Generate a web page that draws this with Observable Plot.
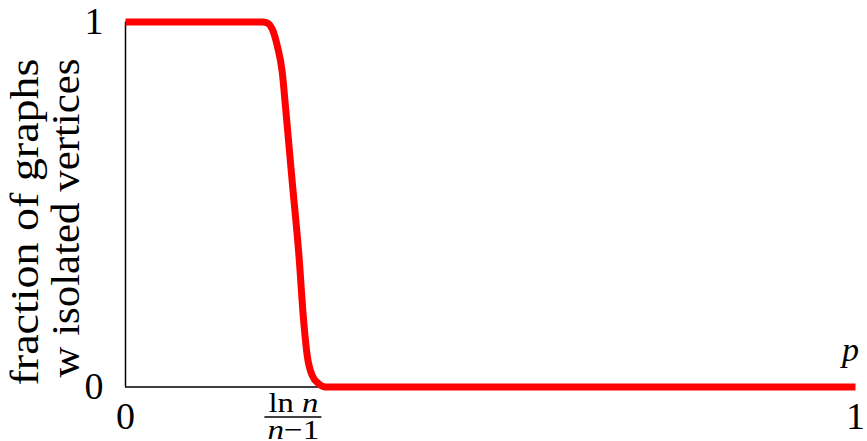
<!DOCTYPE html>
<html><head><meta charset="utf-8">
<script src="https://cdn.jsdelivr.net/npm/d3@7"></script>
<script src="https://cdn.jsdelivr.net/npm/@observablehq/plot@0.6"></script>
<style>body{margin:0;background:#fff} #chart{width:867px;height:441px} svg text{font-family:"Liberation Serif",serif}</style>
</head><body><div id="chart"></div>
<script>
// Data
const pValues = [0, 0.1877, 0.193, 0.201, 0.2078, 0.2147, 0.2192, 0.2223, 0.2288, 0.2374, 0.2442, 0.2489, 0.2558, 0.2648, 0.274, 1];
const fractionIsolated = [1, 1, 0.9986, 0.981, 0.9356, 0.8625, 0.7671, 0.698, 0.553, 0.365, 0.1775, 0.0863, 0.0315, 0.0088, 0, 0];
const lnTick = 0.230;
const xTicks = [0, lnTick, 1];
const xTickLabels = ["0", "", "1"];
const yTicks = [0, 1];
const yTickLabels = ["0", "1"];
const yLabelLines = ["fraction of graphs", "w isolated vertices"];
const fracNum = ["ln ", "n"];
const fracDen = ["n", "−1"];
const xLabel = "p";

const curve = pValues.map((p, i) => ({p, f: fractionIsolated[i]}));
const serif = "Liberation Serif";

const chart = Plot.plot({
  width: 867, height: 441,
  marginLeft: 125, marginRight: 12, marginTop: 21.5, marginBottom: 54.5,
  x: {domain: [0, 1]},
  y: {domain: [0, 1]},
  style: {fontFamily: serif, background: "white", color: "black"},
  marks: [
    Plot.axisX({ticks: xTicks, tickFormat: d => xTickLabels[xTicks.indexOf(d)], tickSize: 0, tickPadding: 15, fontSize: 38, fontFamily: serif, label: null}),
    Plot.axisY({ticks: yTicks, tickFormat: d => yTickLabels[yTicks.indexOf(d)], tickSize: 0, tickPadding: 22, fontSize: 38, fontFamily: serif, label: null}),
    Plot.ruleX([0], {stroke: "black", strokeWidth: 1.5}),
    Plot.ruleY([0], {stroke: "black", strokeWidth: 1.5}),
    Plot.line(curve, {x: "p", y: "f", stroke: "#ff0000", strokeWidth: 7, curve: "monotone-x", strokeLinecap: "butt", strokeLinejoin: "round"}),
    Plot.text([fracNum.join("")], {x: lnTick, y: 0, text: d => d, dy: 25, lineAnchor: "bottom", fontSize: 28, fontFamily: serif}),
    Plot.text([fracDen.join("")], {x: lnTick, y: 0, text: d => d, dy: 52, lineAnchor: "bottom", fontSize: 28, fontFamily: serif}),
    Plot.text([xLabel], {x: 1, y: 0, text: d => d, dx: -5, dy: -26, lineAnchor: "bottom", fontSize: 34, fontStyle: "italic", fontFamily: serif}),
    Plot.text([yLabelLines[0]], {frameAnchor: "top-left", text: d => d, rotate: -90, textAnchor: "end", lineAnchor: "bottom", fontSize: 40, fontFamily: serif, dx: -88, dy: 36.5}),
    Plot.text([yLabelLines[1]], {frameAnchor: "top-left", text: d => d, rotate: -90, textAnchor: "end", lineAnchor: "bottom", fontSize: 40, fontFamily: serif, dx: -47, dy: 36.5})
  ]
});
document.getElementById("chart").appendChild(chart);

const svg = d3.select(chart);
const findText = s => svg.selectAll("text").filter(function () { return this.textContent === s; });
// mixed upright / italic in the fraction
const num = findText(fracNum.join(""));
num.text(null);
num.append("tspan").text(fracNum[0]);
num.append("tspan").attr("font-style", "italic").text(fracNum[1]);
num.attr("textLength", 50).attr("lengthAdjust", "spacingAndGlyphs");
const den = findText(fracDen.join(""));
den.text(null);
den.append("tspan").attr("font-style", "italic").text(fracDen[0]);
den.append("tspan").text(fracDen[1]);
den.attr("textLength", 52).attr("lengthAdjust", "spacingAndGlyphs");
// fraction bar
const xs = chart.scale("x"), ys = chart.scale("y");
const cx = xs.apply(lnTick), y0 = ys.apply(0);
const w = 57;
svg.append("line").attr("x1", cx - w / 2).attr("x2", cx + w / 2)
  .attr("y1", y0 + 30.5).attr("y2", y0 + 30.5).attr("stroke", "black").attr("stroke-width", 1.4);
// stretch y label lines to reference widths
findText(yLabelLines[0]).attr("textLength", 327).attr("lengthAdjust", "spacingAndGlyphs");
findText(yLabelLines[1]).attr("textLength", 319).attr("lengthAdjust", "spacingAndGlyphs");
</script>
</body></html>
